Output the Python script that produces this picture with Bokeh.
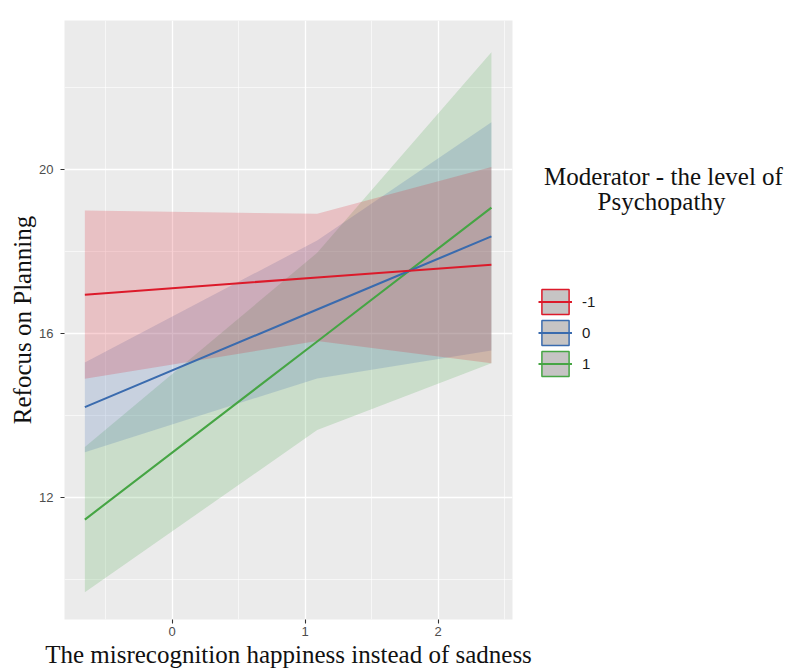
from bokeh.plotting import figure
from bokeh.models import Range1d, FixedTicker, Legend, LegendItem, Label
from bokeh.layouts import row
from bokeh.embed import file_html
from bokeh.resources import INLINE

# ---- data ----
x_knots = [-0.657, 1.09, 2.40]
levels = ["-1", "0", "1"]
colors = ["#DC1A2A", "#3A6BAE", "#46A544"]

fit_m1 = [16.95, 17.37, 17.68]
lo_m1 = [14.90, 15.82, 15.28]
hi_m1 = [19.00, 18.92, 20.06]

fit_0 = [14.21, 16.59, 18.37]
lo_0 = [13.11, 14.91, 15.59]
hi_0 = [15.30, 18.27, 21.15]

fit_p1 = [11.47, 15.81, 19.07]
lo_p1 = [9.70, 13.65, 15.28]
hi_p1 = [13.24, 17.97, 22.86]

x_ticks = [0, 1, 2]
x_minor = [-0.5, 0.5, 1.5, 2.5]
y_ticks = [12, 16, 20]
y_minor = [10, 14, 18, 22]

x_title = "The misrecognition happiness instead of sadness"
y_title = "Refocus on Planning"
legend_title = ["Moderator - the level of", "Psychopathy"]

series = [
    (levels[0], colors[0], fit_m1, lo_m1, hi_m1),
    (levels[1], colors[1], fit_0, lo_0, hi_0),
    (levels[2], colors[2], fit_p1, lo_p1, hi_p1),
]

# ---- main panel ----
p = figure(width=536, height=671, output_backend="svg", toolbar_location=None,
           x_range=Range1d(-0.81, 2.5586), y_range=Range1d(9.035, 23.631),
           min_border_left=64, min_border_right=24, min_border_top=20,
           min_border_bottom=52)
p.background_fill_color = "#EBEBEB"
p.border_fill_color = "white"
p.outline_line_color = None

xt = FixedTicker(ticks=x_ticks, minor_ticks=x_minor)
yt = FixedTicker(ticks=y_ticks, minor_ticks=y_minor)
p.xaxis.ticker = xt
p.yaxis.ticker = yt
p.xgrid.ticker = xt
p.ygrid.ticker = yt
for g in (p.xgrid, p.ygrid):
    g.grid_line_color = "white"
    g.grid_line_width = 1.3
    g.minor_grid_line_color = "white"
    g.minor_grid_line_width = 0.6

for ax in (p.xaxis, p.yaxis):
    ax.axis_line_color = None
    ax.major_tick_line_color = "#333333"
    ax.major_tick_line_width = 1.1
    ax.major_tick_out = 4
    ax.major_tick_in = 0
    ax.minor_tick_line_color = None
    ax.major_label_text_color = "#4D4D4D"
    ax.major_label_text_font = "Liberation Sans"
    ax.major_label_text_font_size = "13px"
    ax.axis_label_text_font = "Liberation Serif"
    ax.axis_label_text_font_style = "normal"
    ax.axis_label_text_color = "#111111"

p.xaxis.axis_label = x_title
p.xaxis.axis_label_text_font_size = "25px"
p.xaxis.major_label_standoff = 3
p.xaxis.axis_label_standoff = 2
p.yaxis.axis_label = y_title
p.yaxis.axis_label_text_font_size = "25px"
p.yaxis.major_label_standoff = 7
p.yaxis.axis_label_standoff = 0

# ribbons: green first, red last (as in the reference overlap colours)
for lvl, col, fit, lo, hi in reversed(series):
    p.varea(x=x_knots, y1=lo, y2=hi, fill_color=col, fill_alpha=0.2)

for lvl, col, fit, lo, hi in reversed(series):
    p.line(x=x_knots, y=fit, line_color=col, line_width=2.1)

# ---- legend panel (frame is aligned with the main panel: px 20..619) ----
q = figure(width=255, height=671, output_backend="svg", toolbar_location=None,
           x_range=Range1d(0, 255), y_range=Range1d(52, 651), min_border=0)
q.axis.visible = False
q.grid.visible = False
q.outline_line_color = None
q.background_fill_color = "white"
q.border_fill_color = "white"

items = []
for lvl, col, fit, lo, hi in series:
    key = q.rect(x=[-1000], y=[-1000], width=1, height=1, fill_color="#C6C4C4",
                 line_color=col, line_width=1.5)
    ln = q.line(x=[-1000, -999], y=[-1000, -1000], line_color=col, line_width=2)
    items.append(LegendItem(label=lvl, renderers=[key, ln]))

legend = Legend(items=items, location=(2, 240), orientation="vertical",
                glyph_width=34, glyph_height=31, spacing=0, padding=0, margin=0,
                border_line_color=None, background_fill_alpha=0,
                label_text_font="Liberation Sans", label_text_font_size="15px",
                label_text_color="#1A1A1A", label_standoff=10)
q.add_layout(legend)

q.add_layout(Label(x=127, y=495, text=legend_title[0], text_align="center",
                   text_baseline="alphabetic", text_font="Liberation Serif",
                   text_font_size="25px", text_color="#111111"))
q.add_layout(Label(x=125, y=470, text=legend_title[1], text_align="center",
                   text_baseline="alphabetic", text_font="Liberation Serif",
                   text_font_size="25px", text_color="#111111"))

open("out.html", "w").write(file_html(row(p, q), INLINE))
